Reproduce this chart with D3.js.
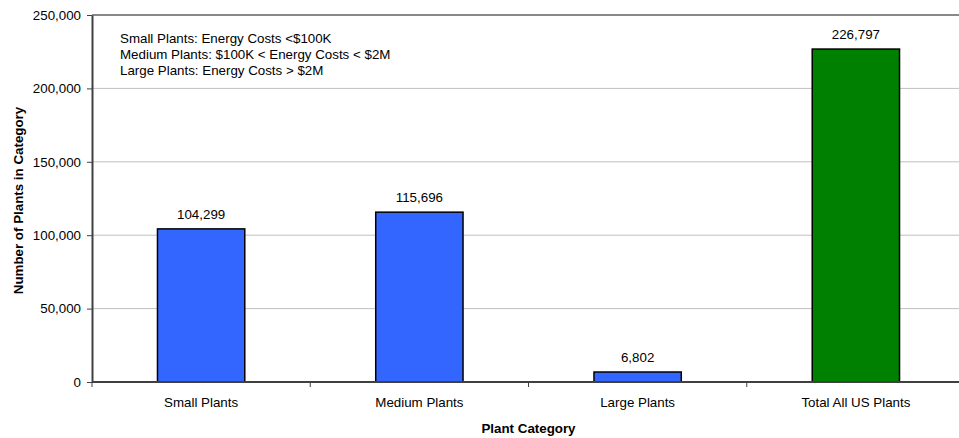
<!DOCTYPE html>
<html>
<head>
<meta charset="utf-8">
<script src="https://cdn.jsdelivr.net/npm/d3@7"></script>
<style>
  body { margin: 0; background: #fff; }
  svg { display: block; font-family: "Liberation Sans", Arial, sans-serif; }
</style>
</head>
<body>
<div id="chart"></div>
<script>
// Data
const categories = ["Small Plants", "Medium Plants", "Large Plants", "Total All US Plants"];
const plantCounts = [104299, 115696, 6802, 226797];
const barColors = ["#3366ff", "#3366ff", "#3366ff", "#008000"];
const yTicks = [0, 50000, 100000, 150000, 200000, 250000];
const noteLines = [
  "Small Plants: Energy Costs <$100K",
  "Medium Plants: $100K < Energy Costs < $2M",
  "Large Plants: Energy Costs > $2M"
];

const width = 959, height = 438;
const fontSize = "13.33px";
// plot area runs slightly past the right edge, like the original
const plot = {left: 92, right: 965, top: 15, bottom: 382};

const svg = d3.select("#chart")
  .append("svg")
  .attr("width", width)
  .attr("height", height);

const data = categories.map((c, i) => ({cat: c, value: plantCounts[i], color: barColors[i]}));

const xScale = d3.scaleBand()
  .domain(categories)
  .range([plot.left, plot.right])
  .paddingInner(0.6)
  .paddingOuter(0.3);

const yScale = d3.scaleLinear()
  .domain([0, 250000])
  .range([plot.bottom, plot.top]);

// Gridlines
svg.append("g")
  .selectAll("line")
  .data(yTicks.filter(d => d > 0 && d < 250000))
  .join("line")
  .attr("x1", plot.left)
  .attr("x2", plot.right)
  .attr("y1", d => yScale(d))
  .attr("y2", d => yScale(d))
  .attr("stroke", "#c0c0c0")
  .attr("stroke-width", 1);

// Top border
svg.append("line")
  .attr("x1", plot.left).attr("x2", plot.right)
  .attr("y1", yScale(250000)).attr("y2", yScale(250000))
  .attr("stroke", "#888").attr("stroke-width", 2);

// Bars
svg.append("g")
  .selectAll("rect")
  .data(data)
  .join("rect")
  .attr("x", d => xScale(d.cat))
  .attr("y", d => yScale(d.value))
  .attr("width", xScale.bandwidth())
  .attr("height", d => yScale(0) - yScale(d.value))
  .attr("fill", d => d.color)
  .attr("stroke", "#000")
  .attr("stroke-width", 1.5);

// Value labels
svg.append("g")
  .selectAll("text")
  .data(data)
  .join("text")
  .attr("x", d => xScale(d.cat) + xScale.bandwidth() / 2)
  .attr("y", d => yScale(d.value) - 10)
  .attr("text-anchor", "middle")
  .style("font-size", fontSize)
  .attr("fill", "#000")
  .text(d => d3.format(",")(d.value));

// Y axis
const yAxis = d3.axisLeft(yScale)
  .tickValues(yTicks)
  .tickFormat(d3.format(","))
  .tickSize(5)
  .tickSizeOuter(0);

const yG = svg.append("g")
  .attr("transform", `translate(${plot.left},0)`)
  .call(yAxis);
yG.select(".domain").attr("stroke", "#404040").attr("stroke-width", 2);
yG.selectAll(".tick line").attr("stroke", "#404040");
yG.selectAll(".tick text").style("font-size", fontSize).attr("fill", "#000").attr("x", -11);

// X axis: category labels, ticks at band boundaries
const xG = svg.append("g");
xG.append("line")
  .attr("x1", plot.left).attr("x2", plot.right)
  .attr("y1", plot.bottom).attr("y2", plot.bottom)
  .attr("stroke", "#404040").attr("stroke-width", 2);

const step = xScale.step();
xG.selectAll(".xtick")
  .data(d3.range(categories.length + 1))
  .join("line")
  .attr("class", "xtick")
  .attr("x1", i => plot.left + i * step)
  .attr("x2", i => plot.left + i * step)
  .attr("y1", plot.bottom)
  .attr("y2", plot.bottom + 5)
  .attr("stroke", "#404040");

xG.selectAll(".xlabel")
  .data(categories)
  .join("text")
  .attr("class", "xlabel")
  .attr("x", d => xScale(d) + xScale.bandwidth() / 2)
  .attr("y", plot.bottom + 25)
  .attr("text-anchor", "middle")
  .style("font-size", fontSize)
  .text(d => d);

// Axis titles
svg.append("text")
  .attr("x", (plot.left + plot.right) / 2)
  .attr("y", 433)
  .attr("text-anchor", "middle")
  .style("font-size", fontSize)
  .style("font-weight", "bold")
  .text("Plant Category");

svg.append("text")
  .attr("transform", `translate(23,${(plot.top + plot.bottom) / 2 + 2}) rotate(-90)`)
  .attr("text-anchor", "middle")
  .style("font-size", fontSize)
  .style("font-weight", "bold")
  .text("Number of Plants in Category");

// Note box
svg.append("g")
  .selectAll("text")
  .data(noteLines)
  .join("text")
  .attr("x", 120)
  .attr("y", (d, i) => 43 + i * 16)
  .style("font-size", fontSize)
  .text(d => d);
</script>
</body>
</html>
